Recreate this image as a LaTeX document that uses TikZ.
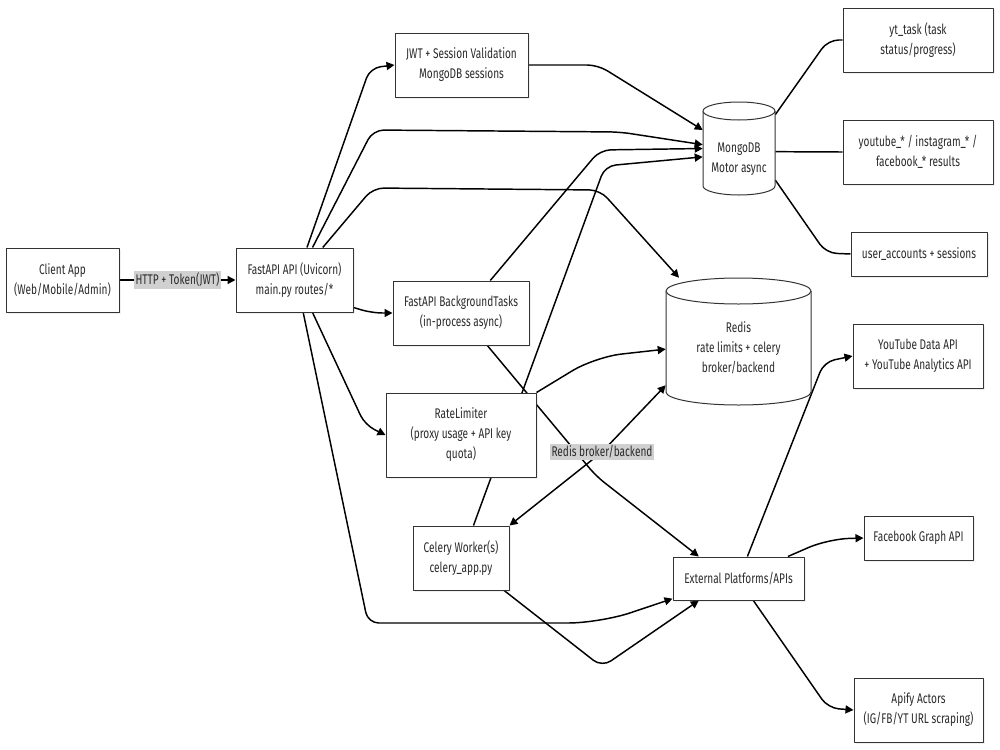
\documentclass[tikz,border=0pt]{standalone}
\usepackage{fontspec}
\setmainfont{Fira Sans}[FakeStretch=0.72]
\usepackage{xcolor}
\usetikzlibrary{arrows.meta,backgrounds,shadows}

\begin{document}
\begin{tikzpicture}[x=0.75pt,y=-0.75pt,line join=round,
  font=\fontsize{10.5}{15}\selectfont,
  box/.style={draw=boxline,line width=.75pt,fill=white,align=center,inner sep=0pt,minimum height=48pt,text=boxtext,
    drop shadow={shadow xshift=1.2pt,shadow yshift=-1.2pt,opacity=.12}},
  zone/.style={inner sep=0pt,align=center},
  cyl/.style={draw=boxline,line width=.75pt,fill=white},
  link/.style={draw=black,line width=1.1pt,rounded corners=8pt},
  arr/.style={link,-{Triangle[length=6pt,width=6pt]}},
  lbl/.style={fill=lblgray,sharp corners,inner sep=1.5pt,text=boxtext,font=\fontsize{10.5}{12}\selectfont}]
\definecolor{boxline}{HTML}{333333}
\definecolor{boxtext}{HTML}{2B2B2B}
\definecolor{lblgray}{HTML}{D0D0D0}
\useasboundingbox (0,0) rectangle (1000,750);
\draw[cyl] (703,111) -- (703,186) arc[start angle=180,end angle=0,x radius=36,y radius=9] -- (775,111);
\draw[cyl] (739,111) ellipse[x radius=36,y radius=9];
\draw[cyl] (666,291) -- (666,392) arc[start angle=180,end angle=0,x radius=72.5,y radius=13] -- (811,291);
\draw[cyl] (738.5,291) ellipse[x radius=72.5,y radius=13];
\node[box,minimum width=84.75pt] (client) at (62.5,280) {Client App\\(Web/Mobile/Admin)};
\node[box,minimum width=87.75pt] (api) at (294.5,280) {FastAPI API (Uvicorn)\\main.py routes/*};
\node[box,minimum width=99.75pt] (jwt) at (461.5,65) {JWT + Session Validation\\MongoDB sessions};
\node[box,minimum width=102pt] (bgtasks) at (461,313) {FastAPI BackgroundTasks\\(in-process async)};
\node[box,minimum width=112.5pt,minimum height=63pt] (ratelim) at (461,435) {RateLimiter\\(proxy usage + API key\\quota)};
\node[box,minimum width=72pt] (celery) at (461,558) {Celery Worker(s)\\celery\_app.py};
\node[box,minimum width=98.25pt,minimum height=32.25pt] (ext) at (738.5,578.5) {External Platforms/APIs};
\node[zone,minimum width=54pt,minimum height=69.75pt,
  label={[align=center,text=boxtext,yshift=-7.9pt]center:MongoDB\\Motor async}] (mongo) at (739,148.5) {};
\node[zone,minimum width=108.75pt,minimum height=95.25pt,
  label={[align=center,text=boxtext,yshift=-4.9pt]center:Redis\\rate limits + celery\\broker/backend}] (redis) at (738.5,341.5) {};
\node[box,minimum width=112.5pt] (yttask) at (918,40) {yt\_task (task\\status/progress)};
\node[box,minimum width=112.5pt] (results) at (918,152) {youtube\_* / instagram\_* /\\facebook\_* results};
\node[box,minimum width=102pt,minimum height=33pt] (users) at (919,254) {user\_accounts + sessions};
\node[box,minimum width=97.5pt] (ytapi) at (918,356) {YouTube Data API\\+ YouTube Analytics API};
\node[box,minimum width=81.75pt,minimum height=33pt] (fbapi) at (918.5,538) {Facebook Graph API};
\node[box,minimum width=96.75pt] (apify) at (918.5,710) {Apify Actors\\(IG/FB/YT URL scraping)};
\begin{pgfonlayer}{background}
\fill[white] (0,0) rectangle (1000,750);
\draw[arr] (client) -- node[lbl]{HTTP + Token(JWT)} (api);
\draw[arr] (api.69) -- (370,68) -- (jwt.west);
\draw[arr] (api.61) -- (373,130) -- (620,132) -- (mongo.174);
\draw[arr] (api.49) -- (373,188) -- (600,190) -- (redis.133);
\draw[arr] (api.-25) -- (372,313) -- (bgtasks.west);
\draw[arr] (api.-61) -- (365,425) -- (ratelim.west);
\draw[arr] (api.-75) -- (368,623) [rounded corners=24pt] -- (600,623) -- (ext.197);
\draw[arr] (jwt.east) -- (598,65) -- (mongo.153);
\draw[arr] (bgtasks.48) -- (600,150) -- (mongo.180);
\draw[arr] (bgtasks.-51) -- (596,476) -- (ext.151);
\draw[arr,rounded corners=20pt] (ratelim.north east) -- (595,357) -- (redis.186);
\draw[arr] (celery.69) -- (605,166) -- (mongo.193);
\draw[arr] (celery.-37) -- (602,667) -- (ext.209);
\draw[link] (mongo.43) -- (828,40) -- (yttask.west);
\draw[link] (mongo.-5) -- (results.west);
\draw[link] (mongo.-41) -- (826,253) -- (users.west);
\draw[arr] (ext.68) -- (824,362) -- (ytapi.west);
\draw[arr,rounded corners=16pt] (ext.24) -- (828,539) -- (fbapi.west);
\draw[arr] (ext.-56) -- (828,708) -- (apify.west);
\draw[link,{Triangle[length=6pt,width=6pt]}-{Triangle[length=6pt,width=6pt]}] (celery.north east) -- (602,452) node[lbl]{Redis broker/backend} -- (redis.211);
\end{pgfonlayer}
\end{tikzpicture}
\end{document}
